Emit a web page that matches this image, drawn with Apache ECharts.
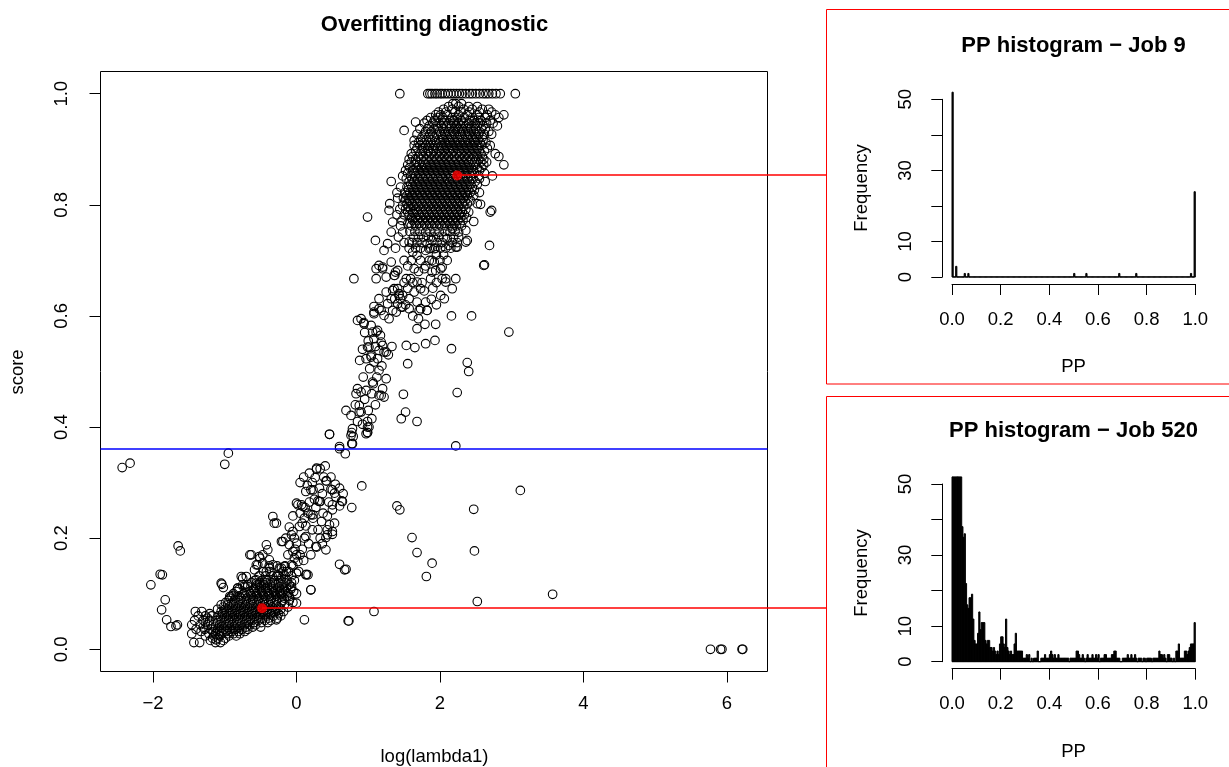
<!DOCTYPE html>
<html><head><meta charset="utf-8">
<script src="https://cdn.jsdelivr.net/npm/echarts@6/dist/echarts.min.js"></script>
<style>html,body{margin:0;padding:0;background:#fff}#c{width:1229px;height:767px}</style>
</head><body><div id="c"></div>
<script>
// ---------------- DATA ----------------
const mainXRange = [-2.732, 6.565];
const mainYRange = [-0.04, 1.04];
const mainXTicks = [-2, 0, 2, 4, 6];
const mainYTicks = [0, 0.2, 0.4, 0.6, 0.8, 1.0];
const histXTicks = [0, 0.2, 0.4, 0.6, 0.8, 1.0];
const histYTicks = [0, 10, 20, 30, 40, 50];
const histYLabels = [0, 10, 30, 50];
const threshold = 0.36;
const selectedJob9 = [2.24, 0.853];
const selectedJob520 = [-0.48, 0.074];

// points with score exactly 1
const topRow = [1.44,1.83,1.86,1.89,1.93,1.96,2.00,2.03,2.07,2.11,2.15,2.19,2.23,2.27,2.31,2.36,2.41,2.45,2.50,2.55,2.60,2.64,2.68,2.73,2.78,2.84,3.05];
// points with score exactly 0
const zeroRow = [5.77,5.91,5.93,6.21,6.22];

// dense upper cloud: [score, [log(lambda1) ...]]
const upperRows = [
[0.982,[2.18,2.22,2.30]],
[0.977,[2.12,2.26,2.40,2.52]],
[0.972,[2.05,2.17,2.33,2.45,2.59,2.68]],
[0.967,[1.98,2.08,2.21,2.29,2.41,2.55,2.72]],
[0.962,[1.94,2.01,2.10,2.26,2.38,2.52,2.66,2.77,2.89]],
[0.957,[1.87,1.97,2.04,2.17,2.24,2.34,2.45,2.54,2.63,2.82]],
[0.952,[1.82,1.92,2.06,2.14,2.20,2.30,2.41,2.48,2.57,2.70]],
[0.947,[1.78,1.90,1.99,2.05,2.12,2.19,2.26,2.33,2.40,2.49,2.56,2.65,2.74]],
[0.942,[1.85,1.95,2.02,2.09,2.16,2.23,2.29,2.36,2.44,2.52,2.60,2.80]],
[0.937,[1.72,1.83,1.92,1.97,2.04,2.14,2.21,2.25,2.31,2.38,2.43,2.50,2.58,2.63]],
[0.932,[1.80,1.88,1.99,2.06,2.12,2.19,2.27,2.33,2.40,2.47,2.55,2.68]],
[0.927,[1.68,1.78,1.86,1.95,2.01,2.07,2.14,2.20,2.28,2.35,2.41,2.49,2.54,2.62,2.72]],
[0.922,[1.75,1.84,1.92,2.03,2.10,2.16,2.24,2.31,2.38,2.45,2.51,2.59]],
[0.917,[1.73,1.81,1.89,1.98,2.04,2.12,2.18,2.25,2.32,2.39,2.47,2.53,2.60]],
[0.912,[1.70,1.78,1.87,1.95,2.00,2.07,2.14,2.21,2.28,2.35,2.42,2.49,2.56,2.64]],
[0.907,[1.64,1.72,1.80,1.85,1.93,2.02,2.09,2.16,2.23,2.30,2.37,2.44,2.51,2.58,2.70]],
[0.902,[1.68,1.76,1.83,1.90,1.97,2.04,2.11,2.18,2.25,2.32,2.39,2.46,2.53,2.66]],
[0.897,[1.66,1.75,1.84,1.91,1.99,2.06,2.13,2.19,2.27,2.34,2.41,2.48,2.55,2.62]],
[0.892,[1.60,1.72,1.80,1.87,1.94,2.01,2.08,2.15,2.22,2.29,2.36,2.43,2.50,2.57,2.77]],
[0.887,[1.62,1.70,1.77,1.85,1.92,1.99,2.06,2.12,2.20,2.27,2.34,2.40,2.47,2.52,2.59,2.82]],
[0.882,[1.57,1.66,1.74,1.82,1.89,1.96,2.03,2.10,2.17,2.24,2.31,2.38,2.45,2.54,2.61]],
[0.877,[1.60,1.68,1.77,1.84,1.91,1.98,2.05,2.12,2.19,2.26,2.33,2.40,2.48,2.57,2.65]],
[0.872,[1.55,1.64,1.71,1.79,1.86,1.93,2.00,2.07,2.14,2.21,2.28,2.35,2.42,2.50,2.61,2.89]],
[0.867,[1.58,1.67,1.74,1.81,1.88,1.95,2.02,2.09,2.16,2.23,2.30,2.37,2.44,2.52,2.58]],
[0.862,[1.52,1.62,1.69,1.76,1.83,1.90,1.97,2.04,2.11,2.18,2.25,2.32,2.39,2.46,2.55]],
[0.857,[1.55,1.64,1.71,1.78,1.85,1.92,1.99,2.06,2.13,2.20,2.27,2.34,2.41,2.48,2.62]],
[0.852,[1.48,1.59,1.66,1.73,1.80,1.87,1.94,2.01,2.08,2.15,2.29,2.36,2.43,2.54,2.73]],
[0.847,[1.53,1.61,1.69,1.76,1.83,1.90,1.97,2.03,2.11,2.18,2.25,2.32,2.39,2.46,2.55]],
[0.842,[1.32,1.57,1.64,1.71,1.78,1.85,1.92,1.99,2.06,2.13,2.20,2.27,2.34,2.41,2.49,2.63]],
[0.837,[1.59,1.66,1.73,1.80,1.87,1.94,2.01,2.08,2.15,2.22,2.29,2.36,2.43,2.52]],
[0.832,[1.45,1.54,1.61,1.68,1.75,1.82,1.89,1.96,2.03,2.10,2.17,2.24,2.31,2.38,2.45]],
[0.827,[1.56,1.63,1.70,1.77,1.84,1.91,1.98,2.05,2.12,2.19,2.26,2.33,2.40,2.48]],
[0.822,[1.40,1.51,1.58,1.65,1.72,1.79,1.86,1.93,2.00,2.07,2.14,2.21,2.28,2.35,2.42,2.55]],
[0.817,[1.54,1.61,1.68,1.75,1.82,1.89,1.96,2.03,2.10,2.17,2.24,2.31,2.38,2.47]],
[0.812,[1.41,1.49,1.56,1.63,1.70,1.77,1.84,1.91,1.98,2.05,2.12,2.19,2.26,2.33,2.40]],
[0.807,[1.51,1.58,1.65,1.72,1.79,1.86,1.93,2.00,2.07,2.14,2.21,2.28,2.35,2.43]],
[0.802,[1.30,1.54,1.61,1.68,1.75,1.82,1.89,1.96,2.03,2.10,2.17,2.24,2.31,2.38]],
[0.797,[1.56,1.63,1.70,1.77,1.84,1.91,1.98,2.05,2.12,2.19,2.26,2.33]],
[0.792,[1.44,1.52,1.59,1.66,1.73,1.80,1.87,1.94,2.01,2.08,2.15,2.22,2.29,2.36]],
[0.787,[1.55,1.62,1.68,1.75,1.82,1.89,1.96,2.03,2.10,2.17,2.24,2.31,2.40]],
[0.782,[1.40,1.50,1.57,1.71,1.78,1.85,1.92,1.99,2.06,2.13,2.20,2.27,2.34]],
[0.777,[1.60,1.66,1.73,1.80,1.87,1.94,2.01,2.08,2.15,2.22,2.29,2.37]],
[0.772,[1.47,1.62,1.69,1.76,1.83,1.90,1.97,2.04,2.11,2.18,2.25,2.32]],
[0.767,[1.58,1.65,1.72,1.79,1.86,1.93,2.00,2.07,2.14,2.21,2.28]],
[0.762,[1.45,1.60,1.67,1.74,1.81,1.88,1.95,2.02,2.09,2.16,2.23,2.30]],
[0.752,[1.58,1.65,1.72,1.86,1.93,2.07,2.14,2.21]],
[0.742,[1.42,1.63,1.70,1.77,1.84,1.91,1.98,2.05,2.19,2.26]],
[0.732,[1.50,1.61,1.68,1.75,1.96,2.03,2.17,2.24]],
[0.722,[1.38,1.57,1.66,1.73,1.87,1.94,2.01,2.08,2.15]]
];

// lower edge of the upper cloud: [log(lambda1), score]
const upperEdge = [
[1.29,0.79],[0.99,0.778],[1.10,0.736],[1.22,0.718],[1.27,0.73],[1.32,0.751],[1.34,0.769],[1.48,0.799],[1.57,0.808],[1.64,0.784],[1.55,0.766],[1.48,0.751],[1.57,0.733],[1.62,0.715],[1.68,0.709],[1.73,0.70],[1.78,0.685],[1.64,0.685],[1.59,0.667],[1.68,0.661],[1.73,0.649],[1.64,0.643],[1.48,0.637],[1.57,0.631],[1.68,0.625],[1.80,0.625],[1.82,0.61],[1.73,0.613],[1.92,0.697],[2.03,0.688],[1.94,0.682],[1.85,0.721],[1.89,0.736],[1.80,0.751],[1.99,0.751],[2.10,0.739],[2.17,0.757],[2.26,0.751],[2.36,0.733],[2.22,0.724],[2.125,0.727],[2.03,0.667],[2.08,0.661],[2.22,0.667],[2.17,0.649],[2.06,0.631],[2.01,0.637],[1.15,0.691],[1.20,0.685],[1.11,0.667],[1.25,0.67],[1.38,0.679],[1.36,0.673],[1.87,0.667],
[1.11,0.685],[1.20,0.688],[1.32,0.697],[1.41,0.682],[1.37,0.673],[1.53,0.667],[1.25,0.643],[1.34,0.646],[1.41,0.649],[1.43,0.637],[1.37,0.631],[1.27,0.622],[1.18,0.61],[1.22,0.601],[1.39,0.607],[1.46,0.616],[1.08,0.604],[0.80,0.667],[1.15,0.631],[1.08,0.617],[0.85,0.592],[0.94,0.588],
[1.34,0.61],[1.41,0.622],[1.45,0.631],[1.32,0.631],[1.36,0.649],[1.48,0.616],[1.43,0.64],
[2.01,0.685],[1.89,0.679],[1.89,0.70],[2.08,0.667],[1.82,0.73],[1.92,0.721],[1.80,0.718],[2.24,0.724],[2.61,0.691],[2.69,0.727],[2.62,0.692],[2.47,0.77],[2.72,0.79],[2.36,0.754],[2.38,0.736],[2.70,0.787],[2.52,0.802],[2.565,0.801],
[1.50,0.70],[1.55,0.69],[1.60,0.70],[1.70,0.68],[1.75,0.66],[1.80,0.69],[1.85,0.70],[1.95,0.71],[2.00,0.70],[2.05,0.71],[2.10,0.70],[1.50,0.66],[1.55,0.65],[1.62,0.66],[1.78,0.645],[1.90,0.65],[1.95,0.66],[1.52,0.62],[1.62,0.60],[1.70,0.595],[1.88,0.63],[1.95,0.62],
[1.66,0.949],[1.50,0.934],[1.64,0.916]
];

// middle band, score 0.35 - 0.6
const midBand = [
[0.90,0.595],[0.94,0.586],[1.08,0.607],[1.15,0.613],[1.06,0.571],[1.13,0.574],[1.08,0.559],[1.18,0.553],[1.15,0.538],[1.22,0.535],[0.99,0.544],[0.97,0.523],[1.04,0.526],[1.08,0.517],[1.15,0.502],[1.25,0.487],[1.06,0.481],[0.97,0.466],[0.90,0.463],[1.20,0.469],[1.15,0.457],[1.22,0.454],[0.875,0.439],[0.90,0.427],[0.99,0.41],[0.99,0.40],[0.97,0.388],
[1.11,0.571],[1.20,0.547],[1.01,0.544],[1.04,0.529],[1.13,0.523],[1.25,0.535],[1.07,0.478],[0.85,0.469],[0.83,0.46],[1.18,0.457],[0.69,0.43],[0.76,0.421],[0.875,0.427],[0.78,0.397],[0.76,0.385],[0.46,0.387],[0.60,0.365],[0.78,0.37],[1.01,0.40],
[1.29,0.595],[1.04,0.583],
[0.95,0.57],[1.00,0.555],[1.10,0.545],[1.17,0.565],[1.02,0.505],[1.12,0.49],[1.19,0.51],[0.93,0.49],[0.95,0.45],[1.05,0.46],[1.10,0.44],[1.00,0.43],[0.92,0.405],[1.05,0.415],[0.85,0.41],[0.82,0.44],[0.88,0.52],[0.92,0.54],[1.28,0.53],[1.33,0.545],
[1.49,0.459],[1.52,0.427],[1.46,0.415],[1.68,0.41],[1.55,0.514],[1.53,0.547],[1.65,0.543],[1.80,0.55],[1.93,0.556],[1.68,0.577],[1.79,0.585],[1.94,0.585],[1.57,0.613],[1.71,0.61],[1.82,0.61],
[2.16,0.541],[2.38,0.516],[2.40,0.50],[2.24,0.462],[2.22,0.366],[2.96,0.571],[2.44,0.6],[2.16,0.6],
[0.77,0.39],[0.79,0.383],[0.77,0.37],[0.68,0.352],[0.60,0.361],[0.99,0.39]
];

// lower band, score 0.1 - 0.35
const lowBand = [
[0.18,0.317],[0.28,0.326],[0.26,0.309],[0.20,0.287],[0.13,0.284],[0.41,0.303],[0.54,0.297],[0.48,0.288],[0.53,0.281],[0.64,0.266],[0.55,0.274],[0.50,0.26],[0.43,0.24],[0.37,0.245],[0.32,0.266],[0.30,0.267],[0.20,0.242],[0.11,0.236],[0.07,0.26],[0.0,0.263],[-0.05,0.24],[0.16,0.245],[0.08,0.227],[0.13,0.222],[0.04,0.221],[0.23,0.236],[0.77,0.255],[0.91,0.294],[0.46,0.224],[0.50,0.212],[0.43,0.206],[0.53,0.227],[-0.05,0.212],[-0.07,0.206],[-0.03,0.2],[0.0,0.191],[-0.10,0.188],[-0.05,0.176],[0.0,0.17],[0.02,0.158],[-0.19,0.194],[-0.33,0.239],[-0.28,0.227],[0.27,0.185],[0.41,0.179],[0.13,0.203],[-0.42,0.188],[-0.47,0.17],[-0.65,0.17],[-0.51,0.164],[-0.38,0.161],[-0.33,0.152],[-0.24,0.146],[-0.14,0.14],[-0.28,0.131],[-0.42,0.125],[-0.56,0.119],[-0.70,0.131],[-0.75,0.116],[-0.82,0.11],[0.0,0.137],[0.16,0.134],[0.20,0.107],[0.0,0.083],[0.60,0.153],[0.67,0.143],[0.69,0.144],[0.11,0.053],[0.72,0.051],[1.08,0.068],[-0.28,0.053],
[0.28,0.324],[0.23,0.287],[0.33,0.266],[0.09,0.257],[0.23,0.242],[0.11,0.2],[0.50,0.207],[0.41,0.201],[0.43,0.215],[0.60,0.258],[0.63,0.267],[0.50,0.251],[0.50,0.287],[0.42,0.303],[0.14,0.135],[0.28,0.184],
[0.05,0.30],[0.10,0.31],[0.15,0.295],[0.22,0.30],[0.32,0.29],[0.36,0.28],[0.25,0.27],[0.18,0.265],[0.12,0.255],[0.05,0.245],[0.27,0.255],[0.35,0.23],[0.30,0.215],[0.22,0.215],[0.17,0.19],[0.08,0.18],[0.05,0.17],[-0.02,0.18],[0.10,0.16],[0.20,0.17],[-0.12,0.17],[-0.15,0.2],[-0.10,0.22],[0.36,0.19],[0.33,0.20],[0.60,0.29],[0.65,0.28],[0.45,0.265],[0.38,0.31],[0.33,0.325],[0.40,0.33],[0.48,0.31],
[-0.52,0.167],[-0.40,0.179],[-0.56,0.152],[-0.47,0.155],[-0.38,0.146],[-0.42,0.14],[-0.585,0.143],[-0.75,0.128],[-0.56,0.125],[-0.515,0.116],[-0.68,0.113],[-0.21,0.146],[-0.17,0.149],[-0.07,0.152],[-0.03,0.164],[0.02,0.26],[-0.21,0.194],[-0.31,0.227],[-0.63,0.17],[-0.54,0.152],[-0.77,0.131],[-1.05,0.119],[-0.93,0.095],[-0.82,0.110],[-0.72,0.116],[-0.19,0.14],[-0.26,0.134],[-0.21,0.128],[0.13,0.134],[-0.07,0.113],[-0.1,0.095],[-0.19,0.101],
[0.46,0.387],[0.99,0.39]
];

// dense lower cluster: [score, [log(lambda1) ...]]
const lowRows = [
[0.012,[-1.43,-1.35,-1.13,-1.06]],
[0.016,[-1.20,-1.02]],
[0.020,[-1.17,-1.09,-0.99]],
[0.024,[-1.27,-1.15,-1.07,-0.94,-0.84]],
[0.028,[-1.46,-1.22,-1.13,-1.04,-0.96,-0.88,-0.79]],
[0.032,[-1.33,-1.16,-1.07,-0.98,-0.90,-0.81,-0.72]],
[0.036,[-1.40,-1.28,-1.19,-1.10,-1.01,-0.93,-0.85,-0.76,-0.68]],
[0.040,[-1.30,-1.13,-1.04,-0.96,-0.87,-0.79,-0.70,-0.61,-0.50]],
[0.044,[-1.46,-1.34,-1.24,-1.16,-1.07,-0.98,-0.90,-0.82,-0.73,-0.65,-0.57]],
[0.048,[-1.27,-1.10,-1.01,-0.93,-0.84,-0.76,-0.67,-0.59,-0.49,-0.40]],
[0.052,[-1.42,-1.30,-1.21,-1.12,-1.04,-0.95,-0.87,-0.79,-0.70,-0.62,-0.53,-0.44,-0.36]],
[0.056,[-1.24,-1.06,-0.98,-0.89,-0.81,-0.72,-0.64,-0.55,-0.47,-0.39,-0.27]],
[0.060,[-1.37,-1.27,-1.18,-1.09,-1.00,-0.92,-0.84,-0.75,-0.67,-0.58,-0.50,-0.41,-0.32,-0.22]],
[0.064,[-1.21,-1.03,-0.94,-0.86,-0.78,-0.69,-0.61,-0.52,-0.44,-0.35,-0.25]],
[0.068,[-1.41,-1.32,-1.05,-0.97,-0.89,-0.80,-0.72,-0.63,-0.55,-0.46,-0.38,-0.29,-0.18]],
[0.072,[-1.10,-1.00,-0.91,-0.83,-0.74,-0.66,-0.57,-0.49,-0.40,-0.31,-0.22]],
[0.076,[-1.02,-0.94,-0.85,-0.77,-0.68,-0.60,-0.51,-0.43,-0.34,-0.25,-0.12]],
[0.080,[-1.05,-0.96,-0.88,-0.79,-0.71,-0.62,-0.54,-0.45,-0.37,-0.28,-0.17]],
[0.084,[-0.99,-0.90,-0.81,-0.73,-0.64,-0.56,-0.47,-0.39,-0.30,-0.21,-0.05]],
[0.088,[-0.95,-0.86,-0.78,-0.70,-0.61,-0.53,-0.45,-0.36,-0.28,-0.20,-0.10]],
[0.092,[-0.93,-0.85,-0.77,-0.69,-0.60,-0.52,-0.43,-0.35,-0.26,-0.17]],
[0.096,[-0.90,-0.80,-0.71,-0.63,-0.55,-0.46,-0.38,-0.29,-0.21,-0.13]],
[0.100,[-0.88,-0.73,-0.64,-0.56,-0.47,-0.39,-0.30,-0.22,-0.12,0.00]],
[0.104,[-0.84,-0.66,-0.58,-0.49,-0.41,-0.32,-0.24,-0.15,-0.04]],
[0.108,[-0.80,-0.60,-0.51,-0.43,-0.34,-0.26,-0.17,-0.08]],
[0.112,[-0.72,-0.57,-0.49,-0.40,-0.32,-0.24,-0.14]],
[0.116,[-0.68,-0.55,-0.46,-0.37,-0.29,-0.20,-0.10]],
[0.120,[-0.63,-0.51,-0.43,-0.34,-0.25,-0.16,-0.07]],
[0.124,[-0.58,-0.48,-0.40,-0.31,-0.22,-0.13,-0.03]],
[0.132,[-0.52,-0.43,-0.34,-0.25,-0.16,-0.07]],
[0.140,[-0.46,-0.37,-0.11,0.03]],
[0.150,[-0.38,-0.27,-0.16,-0.05]]
];

// isolated points
const outliers = [
[-2.43,0.327],[-2.32,0.335],[-0.95,0.353],[-1.0,0.333],[-1.65,0.186],[-1.62,0.177],[-1.90,0.135],[-1.87,0.134],[-2.03,0.116],[-1.83,0.089],[-1.88,0.071],[-1.81,0.053],[-1.75,0.041],[-1.66,0.044],[-1.68,0.042],[-1.04,0.117],[-1.02,0.111],[-1.12,0.017],
[2.52,0.086],[3.57,0.099],[3.12,0.286],[2.47,0.252],[2.48,0.177],[1.89,0.155],[1.81,0.131],[1.68,0.174],[1.61,0.201],[1.40,0.258],[1.44,0.251],[0.73,0.051],[0.2,0.107]
];

// PP histogram counts, 200 equal bins on [0,1]
const job9Counts = [
150,0,0,3,0,0,0,0,0,0,1,0,0,1,0,0,0,0,0,0,
0,0,0,0,0,0,0,0,0,0,0,0,0,0,0,0,0,0,0,0,
0,0,0,0,0,0,0,0,0,0,0,0,0,0,0,0,0,0,0,0,
0,0,0,0,0,0,0,0,0,0,0,0,0,0,0,0,0,0,0,0,
0,0,0,0,0,0,0,0,0,0,0,0,0,0,0,0,0,0,0,0,
1,0,0,0,0,0,0,0,0,0,1,0,0,0,0,0,0,0,0,0,
0,0,0,0,0,0,0,0,0,0,0,0,0,0,0,0,0,1,0,0,
0,0,0,0,0,0,0,0,0,0,0,1,0,0,0,0,0,0,0,0,
0,0,0,0,0,0,0,0,0,0,0,0,0,0,0,0,0,0,0,0,
0,0,0,0,0,0,0,0,0,0,0,0,0,0,0,0,1,0,0,24
];
const job520Counts = [
150,110,90,75,68,62,57,54,38,35,36,22,16,15,18,18,19,12,6,5,
5,8,14,9,11,11,11,6,5,6,6,4,4,3,4,3,2,3,2,5,
7,7,5,4,12,4,3,2,3,2,2,5,8,3,3,3,3,3,1,1,
1,2,1,2,0,1,0,1,1,1,3,0,0,1,1,1,2,1,1,1,
2,3,2,1,2,1,1,2,1,1,1,1,1,1,1,1,0,1,1,1,
1,1,3,3,2,1,1,2,1,0,1,2,1,1,1,2,1,1,2,1,
2,0,1,1,1,2,2,1,1,1,1,2,2,3,3,1,1,1,0,0,
1,1,1,1,2,1,1,2,1,1,2,1,0,1,1,1,0,1,1,0,
1,1,1,1,0,1,1,1,1,1,3,2,2,1,2,1,0,2,2,1,
1,0,1,0,3,3,5,1,1,1,1,3,3,2,3,4,5,5,5,11
];

// ---------------- CHART ----------------
const FONT = '"Liberation Sans", Arial, Helvetica, sans-serif';
const FS = 18.5;
const pts = [];
topRow.forEach(x => pts.push([x, 1.0]));
zeroRow.forEach(x => pts.push([x, 0]));
upperRows.forEach(r => r[1].forEach(x => pts.push([x, r[0]])));
lowRows.forEach(r => r[1].forEach(x => pts.push([x, r[0]])));
[upperEdge, midBand, lowBand, outliers].forEach(a => a.forEach(p => pts.push(p)));

const histClip = 52; // plot region top (ylim 0..50 extended by 4%)
function histData(counts) {
  const w = 1 / counts.length;
  return counts.map((c, i) => [i * w, (i + 1) * w, c]);
}
function histSeries(counts, idx) {
  return {
    type: 'custom', xAxisIndex: idx, yAxisIndex: idx, clip: false, silent: true,
    data: histData(counts),
    renderItem: function (params, api) {
      const p0 = api.coord([api.value(0), 0]);
      const p1 = api.coord([api.value(1), Math.min(api.value(2), histClip)]);
      return { type: 'rect', shape: { x: p0[0], y: p1[1], width: p1[0] - p0[0], height: p0[1] - p1[1] },
        style: { fill: '#000', stroke: '#000', lineWidth: 1 } };
    }
  };
}
function baseLine(counts, idx) {
  return { type: 'line', xAxisIndex: idx, yAxisIndex: idx, symbol: 'none', silent: true,
    data: [[0, 0], [1, 0]], lineStyle: { color: '#000', width: 1 } };
}
const labelStyle = { color: '#000', fontSize: FS, fontFamily: FONT };
function histAxes(idx) {
  return {
    x: { gridIndex: idx, type: 'value', min: 0, max: 1, offset: 7,
      axisLine: { show: true, onZero: false, lineStyle: { color: '#000', width: 1 } },
      splitLine: { show: false },
      axisTick: { show: true, length: 11, customValues: histXTicks, lineStyle: { color: '#000' } },
      axisLabel: Object.assign({ customValues: histXTicks, margin: 26, formatter: v => v.toFixed(1) }, labelStyle) },
    y: { gridIndex: idx, type: 'value', min: 0, max: 50, offset: 9.7,
      axisLine: { show: true, onZero: false, lineStyle: { color: '#000', width: 1 } },
      splitLine: { show: false },
      axisTick: { show: true, length: 11, customValues: histYTicks, lineStyle: { color: '#000' } },
      axisLabel: Object.assign({ customValues: histYLabels, rotate: 90, margin: 27, formatter: v => String(v) }, labelStyle) }
  };
}
const h1 = histAxes(1), h2 = histAxes(2);

const chart = echarts.init(document.getElementById('c'), null, { renderer: 'canvas' });
chart.setOption({
  animation: false,
  backgroundColor: '#fff',
  grid: [
    { left: 100.5, top: 71.5, width: 667, height: 600, show: true, borderColor: '#000', borderWidth: 1, backgroundColor: 'transparent', outerBoundsMode: 'none' },
    { left: 952, top: 99.3, width: 243.3, height: 177.7, show: false, outerBoundsMode: 'none' },
    { left: 952, top: 484, width: 243.3, height: 177.7, show: false, outerBoundsMode: 'none' }
  ],
  xAxis: [
    { gridIndex: 0, type: 'value', min: mainXRange[0], max: mainXRange[1],
      axisLine: { show: false, onZero: false }, splitLine: { show: false },
      axisTick: { show: true, length: 11, customValues: mainXTicks, lineStyle: { color: '#000' } },
      axisLabel: Object.assign({ customValues: mainXTicks, margin: 23,
        formatter: v => (v < 0 ? '\u2212' : '') + Math.abs(v) }, labelStyle) },
    h1.x, h2.x
  ],
  yAxis: [
    { gridIndex: 0, type: 'value', min: mainYRange[0], max: mainYRange[1],
      axisLine: { show: false, onZero: false }, splitLine: { show: false },
      axisTick: { show: true, length: 11, customValues: mainYTicks, lineStyle: { color: '#000' } },
      axisLabel: Object.assign({ customValues: mainYTicks, rotate: 90, margin: 29, formatter: v => v.toFixed(1) }, labelStyle) },
    h1.y, h2.y
  ],
  series: [
    { type: 'scatter', xAxisIndex: 0, yAxisIndex: 0, data: pts, symbol: 'circle', symbolSize: 8.6, silent: true,
      itemStyle: { color: 'rgba(0,0,0,0)', borderColor: '#000', borderWidth: 1.1, opacity: 1 } },
    { type: 'scatter', xAxisIndex: 0, yAxisIndex: 0, data: [selectedJob9, selectedJob520], symbol: 'circle', symbolSize: 10,
      z: 5, silent: true, itemStyle: { color: '#ff0000', borderWidth: 0 } },
    histSeries(job9Counts, 1), baseLine(job9Counts, 1),
    histSeries(job520Counts, 2), baseLine(job520Counts, 2)
  ]
});

// threshold line (abline) and connectors, positioned through the axes
const pA = chart.convertToPixel({ gridIndex: 0 }, selectedJob9);
const pB = chart.convertToPixel({ gridIndex: 0 }, selectedJob520);
const tL = chart.convertToPixel({ gridIndex: 0 }, [mainXRange[0], threshold]);
const tR = chart.convertToPixel({ gridIndex: 0 }, [mainXRange[1], threshold]);
const rowEdge = v => Math.round(v);
const panelX = 826.5;
function txt(text, x, y, size, bold, rot) {
  return { type: 'text', x: x, y: y, rotation: rot || 0, z: 50,
    style: { text: text, fill: '#000', fontSize: size, fontWeight: bold ? 'bold' : 'normal', fontFamily: FONT, align: 'center', verticalAlign: 'middle' } };
}
chart.setOption({
  graphic: [
    { type: 'line', z: 30, shape: { x1: tL[0], y1: rowEdge(tL[1]), x2: tR[0], y2: rowEdge(tR[1]) }, style: { stroke: '#0000ff', lineWidth: 1.5 } },
    txt('Overfitting diagnostic', 434.5, 25, 22, true),
    txt('log(lambda1)', 434.5, 757, FS, false),
    txt('score', 18, 372, FS, false, Math.PI / 2),
    txt('PP histogram \u2212 Job 9', 1073.5, 46, 22, true),
    txt('Frequency', 862, 188, FS, false, Math.PI / 2),
    txt('PP', 1073.5, 367, FS, false),
    txt('PP histogram \u2212 Job 520', 1073.5, 431, 22, true),
    txt('Frequency', 862, 573, FS, false, Math.PI / 2),
    txt('PP', 1073.5, 752, FS, false),
    { type: 'rect', z: 40, shape: { x: panelX, y: 9.5, width: 500, height: 374.5 }, style: { fill: 'none', stroke: '#ff0000', lineWidth: 1 } },
    { type: 'rect', z: 40, shape: { x: panelX, y: 396.5, width: 500, height: 500 }, style: { fill: 'none', stroke: '#ff0000', lineWidth: 1 } },
    { type: 'line', z: 40, shape: { x1: pA[0], y1: rowEdge(pA[1]), x2: panelX, y2: rowEdge(pA[1]) }, style: { stroke: '#ff0000', lineWidth: 1.5 } },
    { type: 'line', z: 40, shape: { x1: pB[0], y1: rowEdge(pB[1]), x2: panelX, y2: rowEdge(pB[1]) }, style: { stroke: '#ff0000', lineWidth: 1.5 } }
  ]
});
</script>
</body></html>
